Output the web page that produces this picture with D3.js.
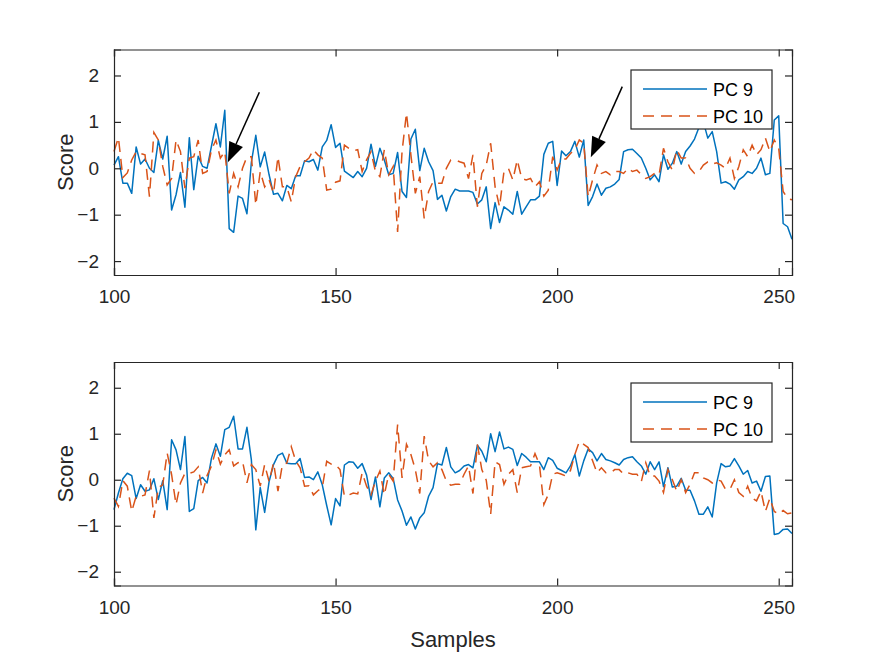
<!DOCTYPE html>
<html>
<head>
<meta charset="utf-8">
<script src="https://cdn.jsdelivr.net/npm/d3@7"></script>
<style>
  body { margin: 0; background: #fff; }
  text { font-family: "Liberation Sans", Arial, Helvetica, sans-serif; fill: #262626; }
</style>
</head>
<body>
<div id="chart"></div>
<script>
// samples 100..253
const samples = d3.range(100, 254);

const xTicks = [100, 150, 200, 250];
const yTicks = [-2, -1, 0, 1, 2];
const seriesNames = ["PC 9", "PC 10"];

// top panel
const topPC9 = [
  0.07, 0.25, -0.32, -0.32, -0.54, 0.46, 0.09, 0.2, 0, -0.09,
  0.6, 0.2, 0.69, -0.9, -0.57, -0.09, -0.84, 0.66, -0.46, 0.26,
  0.04, 0, 0.48, 0.96, 0.46, 1.25, -1.3, -1.38, -0.6, -0.65,
  -0.98, 0.13, 0.71, 0.03, 0.35, -0.14, -0.56, -0.54, -0.7, -0.37,
  -0.44, -0.16, -0.16, 0.16, 0.14, 0.19, -0.04, 0.46, 0.6, 0.94,
  0.45, 0.54, -0.06, -0.13, -0.2, -0.07, -0.18, 0, 0.52, 0.04,
  0.43, 0.18, -0.14, -0.11, 0.34, -0.5, -0.63, 0.63, 0.84, -0.05,
  0.43, 0.14, -0.05, -0.67, -0.58, -0.92, -0.61, -0.45, -0.49, -0.49,
  -0.49, -0.52, -0.77, -0.68, -0.4, -1.3, -0.74, -1.17, -0.83, -0.9,
  -0.99, -0.5, -0.99, -0.83, -0.68, -0.68, -0.6, 0.3, 0.54, 0.58,
  -0.37, 0.37, 0.27, 0.36, 0.58, 0.24, 0.61, -0.8, -0.61, -0.34,
  -0.58, -0.43, -0.4, -0.34, -0.24, 0.36, 0.4, 0.41, 0.32, 0.22,
  0, -0.25, -0.14, -0.29, 0.29, -0.02, 0.11, 0.36, 0.09, 0.36,
  0.48, 0.63, 0.88, 1.0, 0.65, 0.79, 0.36, -0.32, -0.29, -0.34,
  -0.45, -0.25, -0.18, -0.07, -0.11, 0, 0.22, -0.14, -0.11, 1.04,
  1.13, -1.19, -1.26, -1.53
];
const topPC10 = [
  0.36, 0.66, -0.2, -0.1, 0.18, 0.36, 0.32, 0.29, -0.61, 0.77,
  0.61, 0.04, -0.36, -0.22, 0.61, 0.36, -0.43, 0.22, 0.25, 0.61,
  -0.11, -0.07, 0.4, 0.61, 0.22, 0.36, -0.54, -0.11, -0.4, 0,
  0.25, 0.25, -0.79, -0.07, -0.4, -0.25, -0.54, 0.25, -0.4, -0.4,
  -0.72, -0.18, 0.04, 0.14, 0.22, 0.4, 0.29, 0.22, -0.47, -0.45,
  -0.3, -0.27, 0.5, 0.43, 0.38, 0.4, -0.07, 0.18, 0.36, -0.07,
  -0.18, 0.4, -0.14, 0.04, -1.37, 0.36, 1.19, 0.29, -0.54, -0.18,
  -1.08, -0.5, -0.29, -0.32, -0.32, 0, 0.18, 0.18, 0.14, 0.11,
  -0.22, 0.29, -0.83, -0.11, 0.07, 0.54, -0.4, -0.83, -0.07, 0,
  -0.25, 0.18, -0.22, -0.25, -0.22, -0.4, -0.29, -0.6, -0.47, 0.25,
  -0.04, 0.2, 0.2, 0.32, 0.4, 0.61, 0.54, -0.61, -0.25, 0.07,
  -0.11, -0.07, -0.14, -0.07, -0.07, -0.11, 0, -0.07, -0.04, -0.14,
  -0.22, -0.18, -0.11, -0.14, 0.43, 0.14, -0.04, 0.4, 0.22, 0.22,
  0, -0.11, -0.07, 0.07, 0.14, 0.09, 0.12, 0.07, 0, 0.22,
  -0.22, 0.04, 0.4, 0.25, 0.5, 0.29, 0.4, 0.65, 0.36, 0.61,
  0.43, -0.5, -0.65, -0.68
];

// bottom panel
const botPC9 = [
  -0.65, -0.29, 0.02, 0.14, 0.09, -0.41, -0.11, -0.25, -0.22, 0.02,
  -0.43, -0.02, -0.65, 0.87, 0.65, 0.22, 0.94, -0.69, -0.63, -0.02,
  0.05, -0.07, 0.47, 0.78, 0.51, 1.09, 1.14, 1.38, 0.67, 0.67,
  1.14, 0.43, -1.09, -0.17, -0.71, -0.04, 0.33, 0.53, 0.58, 0.36,
  0.35, 0.35, 0.46, 0.05, 0.06, 0, 0.17, -0.11, -0.56, -0.98,
  -0.41, -0.57, 0.32, 0.39, 0.38, 0.25, 0.35, 0.1, -0.43, 0.06,
  -0.59, 0.04, 0.15, 0.03, -0.44, -0.68, -0.99, -0.81, -1.07, -0.83,
  -0.72, -0.36, -0.17, 0.35, 0.32, 0.7, 0.28, 0.15, 0.2, 0.3,
  0.33, 0.26, 0.75, 0.62, 0.39, 1.0, 0.61, 1.04, 0.67, 0.71,
  0.66, 0.31, 0.57, 0.49, 0.39, 0.39, 0.39, 0.22, 0.48, 0.42,
  0.25, 0.2, 0.15, 0.3, 0.55, 0.08, 0.41, 0.67, 0.59, 0.41,
  0.57, 0.44, 0.41, 0.37, 0.32, 0.44, 0.48, 0.5, 0.39, 0.3,
  0.12, 0.39, 0.22, 0.39, -0.15, 0.26, -0.16, -0.14, 0.03, -0.23,
  -0.23, -0.46, -0.75, -0.75, -0.59, -0.81, -0.07, 0.35, 0.28, 0.3,
  0.46, 0.3, 0.12, 0.2, -0.07, -0.03, -0.25, 0.07, 0.08, -1.19,
  -1.17, -1.08, -1.07, -1.17
];
const botPC10 = [
  -0.4, -0.58, -0.02, -0.14, -0.69, -0.36, -0.36, -0.33, 0.2, -0.83,
  -0.17, -0.11, 0.58, 0.11, -0.54, -0.07, 0.14, 0.14, 0.17, 0.28,
  -0.29, 0.09, 0.3, 0.65, 0.34, 0.54, 0.65, 0.3, 0.37, 0.4,
  -0.07, 0.33, 0.22, -0.14, 0.33, -0.04, 0.37, -0.25, 0.33, 0.36,
  0.72, 0.41, 0.26, -0.14, -0.13, -0.33, -0.24, -0.17, 0.4, 0.34,
  0.33, 0.22, -0.36, -0.33, -0.29, -0.31, 0.15, -0.14, -0.33, -0.03,
  0.19, -0.33, 0.12, -0.03, 1.2, 0.04, 0.77, 0.55, 0.22, -0.3,
  0.95, 0.41, 0.28, 0.37, 0.22, -0.03, -0.12, -0.1, -0.1, 0.12,
  0.3, -0.3, 0.77, 0.22, -0.01, -0.75, 0.39, 0.33, -0.1, 0.12,
  0.22, -0.28, 0.26, 0.28, 0.3, 0.57, 0.33, -0.54, -0.32, 0.12,
  0.15, 0.12, 0.08, 0.2, 0.55, 0.83, 0.77, 0.7, 0.41, 0.15,
  0.26, 0.15, 0.15, 0.22, 0.22, 0.12, 0.15, 0.12, 0.12, -0.04,
  0.37, 0.08, 0.08, -0.03, -0.28, 0.22, 0, -0.25, 0, -0.28,
  -0.1, 0.15, 0.15, 0.04, 0, -0.07, 0, -0.03, -0.21, -0.21,
  0, -0.28, -0.36, -0.14, -0.4, -0.46, -0.25, -0.69, -0.4, -0.69,
  -0.75, -0.67, -0.74, -0.72
];

// arrows on the top panel: [tailX, tailY, tipX, tipY] in data units
const arrows = [
  [132.8, 1.64, 125.7, 0.13],
  [214.7, 1.76, 207.6, 0.24]
];

const colors = ["#0072BD", "#D95319"];
const W = 875, H = 657;

const svg = d3.select("#chart").append("svg")
  .attr("width", W)
  .attr("height", H);

const x = d3.scaleLinear().domain([100, 253]).range([114, 792]);

function drawPanel(top, bottom, pc9, pc10, legendY, withArrows) {
  const y = d3.scaleLinear().domain([-2.3, 2.56]).range([bottom, top]);
  const g = svg.append("g");

  const line = d3.line()
    .x((d, i) => x(samples[i]))
    .y(d => y(d));

  g.append("path")
    .datum(pc9)
    .attr("d", line)
    .attr("fill", "none")
    .attr("stroke", colors[0])
    .attr("stroke-width", 1.5)
    .attr("stroke-linejoin", "round");

  g.append("path")
    .datum(pc10)
    .attr("d", line)
    .attr("fill", "none")
    .attr("stroke", colors[1])
    .attr("stroke-width", 1.5)
    .attr("stroke-dasharray", "11,7");

  // box with inward ticks on all sides
  g.append("g")
    .attr("transform", `translate(0,${bottom})`)
    .call(d3.axisBottom(x).tickValues(xTicks).tickSize(-7).tickPadding(15).tickFormat(d3.format("d")));
  g.append("g")
    .attr("transform", `translate(0,${top})`)
    .call(d3.axisTop(x).tickValues(xTicks).tickSize(-7).tickFormat(""));
  g.append("g")
    .attr("transform", `translate(114,0)`)
    .call(d3.axisLeft(y).tickValues(yTicks).tickSize(-7).tickPadding(15).tickFormat(d3.format("d")));
  g.append("g")
    .attr("transform", `translate(792,0)`)
    .call(d3.axisRight(y).tickValues(yTicks).tickSize(-7).tickFormat(""));

  g.selectAll(".domain").attr("stroke", "#262626").attr("stroke-width", 1.2);
  g.selectAll(".tick line").attr("stroke", "#262626").attr("stroke-width", 1.2);
  g.selectAll(".tick text")
    .style("font-family", "'Liberation Sans', Arial, sans-serif")
    .style("font-size", "19px")
    .attr("fill", "#262626");

  g.append("text")
    .attr("transform", `translate(73,${(top + bottom) / 2}) rotate(-90)`)
    .attr("text-anchor", "middle")
    .style("font-size", "22px")
    .text("Score");

  // legend
  const lg = g.append("g");
  lg.append("rect")
    .attr("x", 631).attr("y", legendY)
    .attr("width", 141).attr("height", 59)
    .attr("fill", "#fff")
    .attr("stroke", "#262626")
    .attr("stroke-width", 1.2);
  seriesNames.forEach((name, k) => {
    const ry = legendY + 19 + k * 27;
    lg.append("line")
      .attr("x1", 643).attr("x2", 707)
      .attr("y1", ry).attr("y2", ry)
      .attr("stroke", colors[k])
      .attr("stroke-width", 1.5)
      .attr("stroke-dasharray", k === 1 ? "11,7" : null);
    lg.append("text")
      .attr("x", 713).attr("y", ry + 6.5)
      .style("font-size", "18px")
      .style("fill", "#000")
      .text(name);
  });

  if (withArrows) {
    arrows.forEach(a => {
      const x1 = x(a[0]), y1 = y(a[1]), x2 = x(a[2]), y2 = y(a[3]);
      const ang = Math.atan2(y2 - y1, x2 - x1);
      const len = 20, half = 7.5;
      const bx = x2 - len * Math.cos(ang), by = y2 - len * Math.sin(ang);
      g.append("line")
        .attr("x1", x1).attr("y1", y1).attr("x2", bx).attr("y2", by)
        .attr("stroke", "#000").attr("stroke-width", 1.5);
      const pts = [
        [x2, y2],
        [bx + half * Math.sin(ang), by - half * Math.cos(ang)],
        [bx - half * Math.sin(ang), by + half * Math.cos(ang)]
      ];
      g.append("polygon")
        .attr("points", pts.map(p => p.join(",")).join(" "))
        .attr("fill", "#000");
    });
  }
}

drawPanel(49.5, 275, topPC9, topPC10, 70, true);
drawPanel(362, 585.5, botPC9, botPC10, 383, false);

svg.append("text")
  .attr("x", 453).attr("y", 647)
  .attr("text-anchor", "middle")
  .style("font-size", "22px")
  .text("Samples");
</script>
</body>
</html>
